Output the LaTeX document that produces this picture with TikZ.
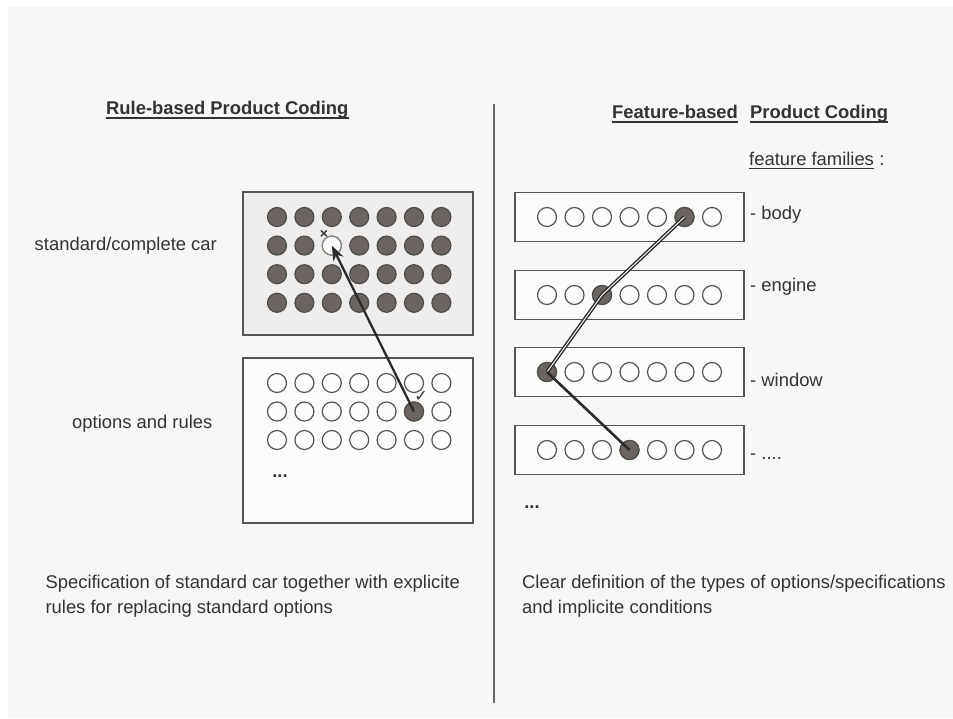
\documentclass[tikz,border=0pt]{standalone}
\usepackage{fontspec}
\setmainfont{Liberation Sans}
\newfontfamily\symfont{DejaVu Sans}
\usetikzlibrary{arrows.meta, positioning}
\definecolor{bgcol}{HTML}{F8F7F5}
\definecolor{greybox}{HTML}{EEEDEC}
\definecolor{dotcol}{HTML}{6B6461}
\definecolor{edgecol}{HTML}{555555}
\definecolor{textcol}{HTML}{333333}
\definecolor{linecol}{HTML}{2B2B2B}

\begin{document}
\begin{tikzpicture}[x=1pt, y=-1pt,
    txt/.style={font=\fontsize{18.4}{25}\selectfont, text=textcol, inner sep=0pt},
    ttl/.style={font=\fontsize{18.4}{25}\selectfont\bfseries, text=textcol, inner sep=0pt},
    uline/.style={textcol, line width=2pt},
    dot/.style={circle, draw=edgecol, line width=1.2pt, minimum size=19pt, inner sep=0pt},
    full/.style={dot, fill=dotcol, draw=black!70},
    empty/.style={dot, fill=white!60!bgcol},
    panel/.style={draw=edgecol, line width=1.3pt, inner sep=0pt}]
  \useasboundingbox (0,0) rectangle (953,718);
  \fill[white] (0,0) rectangle (953,718);
  \fill[bgcol] (8,7) rectangle (953,718);
  \draw[edgecol!90, line width=2pt] (494,104) -- (494,703);

  % titles
  \node[ttl, anchor=base west] (ruletitle) at (106,114) {Rule-based Product Coding};
  \node[ttl, anchor=base west] (feattitle) at (612,118) {Feature-based};
  \node[ttl, anchor=base west] (prodtitle) at (750,118) {Product Coding};
  \node[txt, anchor=base west] (famtitle) at (749,165) {feature families};
  \node[txt, anchor=base west] (famcolon) at ([xshift=5pt]famtitle.base east) {:};
  \foreach \t in {ruletitle, feattitle, prodtitle}
    \draw[uline] ([yshift=-3.5pt]\t.base west) -- ([yshift=-3.5pt]\t.base east);
  \draw[uline, line width=1.5pt] ([yshift=-3.5pt]famtitle.base west) -- ([yshift=-3.5pt]famtitle.base east);

  % left side: standard car and options
  \node[panel, fill=greybox, minimum width=230pt, minimum height=143pt] (stdbox) at (358,263.5) {};
  \node[panel, fill=bgcol!50!white, minimum width=230pt, minimum height=165pt] (optbox) at (358,440.5) {};
  \node[txt, anchor=base east] (stdlabel) at (217,250) {standard/complete car};
  \node[txt, anchor=base west] (optlabel) at (72,428) {options and rules};
  \foreach \r in {1,...,4}
    \foreach \c in {1,...,7}
      \node[full] (s-\r-\c) at ({277+(\c-1)*27.4},{217+(\r-1)*28.6}) {};
  \node[empty, draw=dotcol!80] (s-2-3) at ({277+2*27.4},{217+28.6}) {};
  \foreach \r in {1,...,3}
    \foreach \c in {1,...,7}
      \node[empty] (o-\r-\c) at ({277+(\c-1)*27.4},{383+(\r-1)*28.5}) {};
  \node[full] (o-2-6) at ({277+5*27.4},{383+28.5}) {};
  \node[txt, font=\fontsize{14}{14}\selectfont\bfseries] (cross) at (324,234) {×};
  \node[txt, font=\fontsize{16}{16}\selectfont\symfont] (tick) at (421,396) {✓};
  \node[txt, font=\fontsize{18.4}{20}\selectfont\bfseries, anchor=base] (optdots) at (280,477) {...};
  \draw[linecol, line width=2.3pt, -{Stealth[length=15pt, width=11pt]}] (o-2-6.center) -- (s-2-3.center);

  % right side: feature families
  \foreach \n/\y in {body/217, engine/295, window/372, rest/450} {
    \node[panel, fill=bgcol!50!white, minimum width=229pt, minimum height=49pt] (\n) at (629.5,\y) {};
    \foreach \c in {1,...,7}
      \node[empty] (\n-\c) at ({547+(\c-1)*27.5},\y) {};
  }
  \node[txt, anchor=base west] (bodylab) at (750,219) {- body};
  \node[txt, anchor=base west] (enginelab) at (750,291) {- engine};
  \node[txt, anchor=base west] (windowlab) at (750,386) {- window};
  \node[txt, anchor=base west] (restlab) at (750,459) {- ....};
  \node[full] (body-6) at ({547+5*27.5},217) {};
  \node[full] (engine-3) at ({547+2*27.5},295) {};
  \node[full] (window-1) at (547,372) {};
  \node[full] (rest-4) at ({547+3*27.5},450) {};
  \node[txt, font=\fontsize{18.4}{20}\selectfont\bfseries, anchor=base] (featdots) at (532,508) {...};
  \draw[linecol, line width=1.4pt, double=bgcol, double distance=1pt, line join=round]
    (body-6.center) -- (engine-3.center) -- (window-1.center);
  \draw[linecol, line width=2.6pt] (window-1.center) -- (rest-4.center);

  % captions
  \node[txt, anchor=base east] (rulecap1) at (460,588)
    {Specification of standard car together with explicite};
  \node[txt, anchor=base west] (rulecap2) at (rulecap1.base west |- 0,613)
    {rules for replacing standard options};
  \node[txt, anchor=base west] (featcap1) at (522,588)
    {Clear definition of the types of options/specifications};
  \node[txt, anchor=base west] (featcap2) at (522,613)
    {and implicite conditions};
\end{tikzpicture}
\end{document}
